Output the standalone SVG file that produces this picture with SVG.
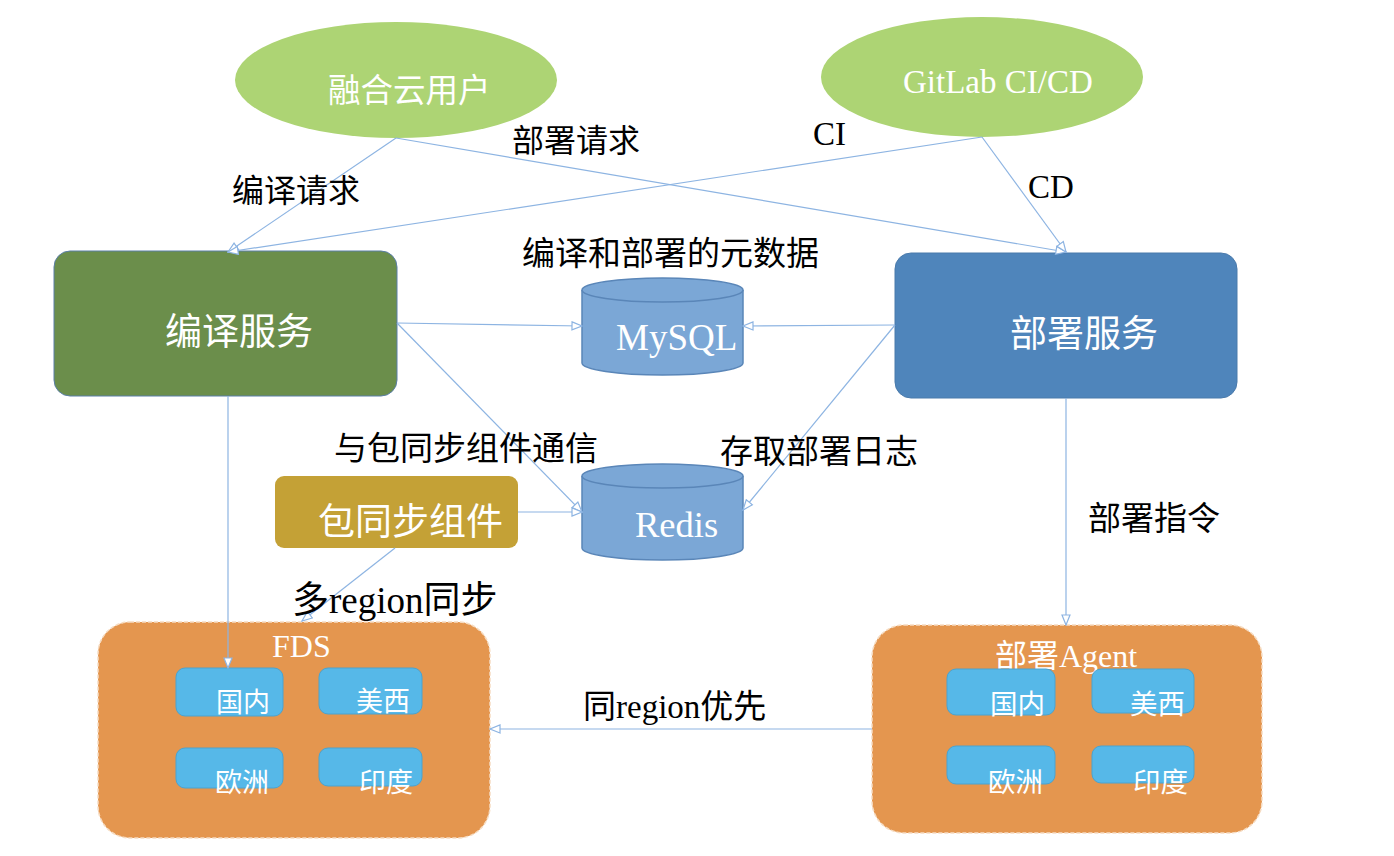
<svg xmlns="http://www.w3.org/2000/svg" width="1394" height="856" viewBox="0 0 1394 856">
<style>
text{font-family:"Liberation Serif","Noto Sans CJK SC",serif}
.lbl{fill:#000}
.w{fill:#fff}
.c{stroke:#8db4e2;stroke-width:1.2;fill:none}
.reg{fill:#56b8e8;stroke:#4aa3d0;stroke-width:1}
.cont{fill:#e4964f;stroke:#f6dcc2;stroke-width:1.5;stroke-dasharray:4 2}
.db{fill:#7ba7d6;stroke:#5a86b8;stroke-width:1.5}
</style>
<defs>
<marker id="ah" viewBox="0 0 12 10" refX="11" refY="5" markerWidth="12" markerHeight="10" markerUnits="userSpaceOnUse" orient="auto">
<path d="M1,1 L11,5 L1,9 Z" fill="#fff" stroke="#8db4e2" stroke-width="1.2"/>
</marker>
</defs>
<rect width="1394" height="856" fill="#fff"/>

<g id="user">
<ellipse cx="396" cy="80" rx="161" ry="58" fill="#add474"/>
<text x="328" y="102" class="w" font-size="32.5">融合云用户</text>
</g>
<g id="gitlab">
<ellipse cx="982" cy="77" rx="161" ry="60" fill="#add474"/>
<text x="903" y="93" class="w" font-size="33">GitLab CI/CD</text>
</g>
<g id="compile">
<rect x="54" y="251" width="343" height="145" rx="16" fill="#6b8e4b" stroke="#5b7fa8" stroke-width="1"/>
<text x="165" y="345" class="w" font-size="37">编译服务</text>
</g>
<g id="deploy">
<rect x="895" y="253" width="342" height="145" rx="16" fill="#4f85bb" stroke="#4a7aab" stroke-width="1"/>
<text x="1010" y="347" class="w" font-size="37">部署服务</text>
</g>
<g id="mysql">
<path class="db" d="M582,290 L582,363 A80.5,12 0 0 0 743,363 L743,290"/>
<ellipse class="db" cx="662.5" cy="290" rx="80.5" ry="12"/>
<text x="616" y="350" class="w" font-size="37">MySQL</text>
</g>
<g id="redis">
<path class="db" d="M582,476 L582,548 A80.5,12 0 0 0 743,548 L743,476"/>
<ellipse class="db" cx="662.5" cy="476" rx="80.5" ry="12"/>
<text x="635" y="537" class="w" font-size="36.5">Redis</text>
</g>
<g id="pkgsync">
<rect x="275" y="476" width="243" height="72" rx="9" fill="#c4a136"/>
<text x="318" y="535" class="w" font-size="37">包同步组件</text>
</g>
<g id="fds">
<rect class="cont" x="98" y="622" width="392" height="216" rx="32"/>
<text x="272" y="657" class="w" font-size="32">FDS</text>
<rect class="reg" x="176" y="668" width="107" height="48" rx="9"/>
<rect class="reg" x="319" y="668" width="103" height="46" rx="9"/>
<rect class="reg" x="176" y="748" width="107" height="40" rx="9"/>
<rect class="reg" x="319" y="748" width="103" height="38" rx="9"/>
<text x="216" y="712" class="w" font-size="27">国内</text>
<text x="356" y="711" class="w" font-size="27">美西</text>
<text x="215" y="792" class="w" font-size="27">欧洲</text>
<text x="359" y="792" class="w" font-size="27">印度</text>
</g>
<g id="agent">
<rect class="cont" x="872" y="625" width="390" height="208" rx="32"/>
<text x="995" y="667" class="w" font-size="32">部署Agent</text>
<rect class="reg" x="947" y="669" width="108" height="46" rx="9"/>
<rect class="reg" x="1092" y="669" width="102" height="44" rx="9"/>
<rect class="reg" x="947" y="746" width="108" height="38" rx="9"/>
<rect class="reg" x="1092" y="746" width="102" height="37" rx="9"/>
<text x="990" y="714" class="w" font-size="27.5">国内</text>
<text x="1130" y="714" class="w" font-size="27.5">美西</text>
<text x="988" y="792" class="w" font-size="27.5">欧洲</text>
<text x="1133" y="792" class="w" font-size="27.5">印度</text>
</g>

<g id="connectors">
<path class="c" d="M396,138 L228,252" marker-end="url(#ah)"/>
<path class="c" d="M396,138 L1066,252" marker-end="url(#ah)"/>
<path class="c" d="M982,137 L228,252" marker-end="url(#ah)"/>
<path class="c" d="M982,137 L1066,252" marker-end="url(#ah)"/>
<path class="c" d="M397,323 L582,326" marker-end="url(#ah)"/>
<path class="c" d="M895,325 L743,326" marker-end="url(#ah)"/>
<path class="c" d="M397,323 L582,512" marker-end="url(#ah)"/>
<path class="c" d="M895,325 L743,510" marker-end="url(#ah)"/>
<path class="c" d="M518,512 L582,512" marker-end="url(#ah)"/>
<path class="c" d="M395,548 L302,621" marker-end="url(#ah)"/>
<path class="c" d="M228,396 L228,668" marker-end="url(#ah)"/>
<path class="c" d="M1066,398 L1066,625" marker-end="url(#ah)"/>
<path class="c" d="M872,729 L490,729" marker-end="url(#ah)"/>
</g>

<g id="labels">
<text x="512" y="152" class="lbl" font-size="32">部署请求</text>
<text x="232" y="202" class="lbl" font-size="32">编译请求</text>
<text x="813" y="145" class="lbl" font-size="33">CI</text>
<text x="1028" y="198" class="lbl" font-size="33">CD</text>
<text x="522" y="265" class="lbl" font-size="33">编译和部署的元数据</text>
<text x="334" y="460" class="lbl" font-size="33">与包同步组件通信</text>
<text x="720" y="463" class="lbl" font-size="33">存取部署日志</text>
<text x="1088" y="530" class="lbl" font-size="33">部署指令</text>
<text x="292" y="613" class="lbl" font-size="37">多region同步</text>
<text x="583" y="718" class="lbl" font-size="33">同region优先</text>
</g>
</svg>
